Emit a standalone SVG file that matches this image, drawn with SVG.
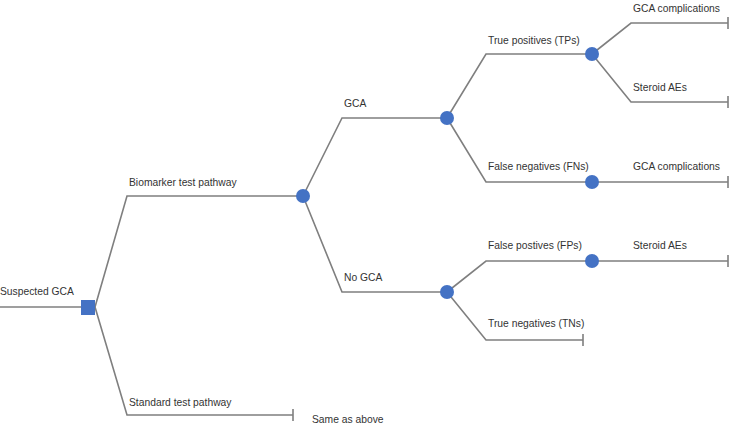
<svg xmlns="http://www.w3.org/2000/svg" width="735" height="432" viewBox="0 0 735 432">
<style>
.c{fill:none;stroke:#7f7f7f;stroke-width:1.6}
.n{fill:#4472C4}
text{font-family:"Liberation Sans",Arial,sans-serif;font-size:10.3px;fill:#333}
</style>
<rect width="735" height="432" fill="#fff"/>
<g id="connectors">
<path class="c" d="M0 307H81"/>
<path class="c" d="M95 307L127 196H303"/>
<path class="c" d="M95 307L127 415H293M293 409V421"/>
<path class="c" d="M303 196L342 118H447"/>
<path class="c" d="M303 196L342 292H447"/>
<path class="c" d="M447 118L486 54H592"/>
<path class="c" d="M447 118L486 182H728M728 176V188"/>
<path class="c" d="M592 54L631 23H728M728 17V29"/>
<path class="c" d="M592 54L631 102H728M728 96V108"/>
<path class="c" d="M447 292L486 261H728M728 255V267"/>
<path class="c" d="M447 292L486 340H583M583 334V346"/>
</g>
<g id="root"><rect class="n" x="81" y="300" width="14" height="15"/><text x="0" y="295">Suspected GCA</text></g>
<g id="biomarker"><circle class="n" cx="303" cy="196" r="7"/><text x="129" y="186">Biomarker test pathway</text></g>
<g id="standard"><text x="129" y="406">Standard test pathway</text><text x="312" y="423">Same as above</text></g>
<g id="gca"><circle class="n" cx="447" cy="118" r="7"/><text x="344" y="107">GCA</text></g>
<g id="nogca"><circle class="n" cx="447" cy="292" r="7"/><text x="344" y="281">No GCA</text></g>
<g id="tp"><circle class="n" cx="592" cy="54" r="7"/><text x="488" y="44">True positives (TPs)</text></g>
<g id="tp-gca"><text x="633" y="12">GCA complications</text></g>
<g id="tp-ae"><text x="633" y="91">Steroid AEs</text></g>
<g id="fn"><circle class="n" cx="592" cy="182" r="7"/><text x="488" y="170">False negatives (FNs)</text></g>
<g id="fn-gca"><text x="633" y="170">GCA complications</text></g>
<g id="fp"><circle class="n" cx="592" cy="261" r="7"/><text x="488" y="249">False postives (FPs)</text></g>
<g id="fp-ae"><text x="633" y="249">Steroid AEs</text></g>
<g id="tn"><text x="488" y="327">True negatives (TNs)</text></g>
</svg>
